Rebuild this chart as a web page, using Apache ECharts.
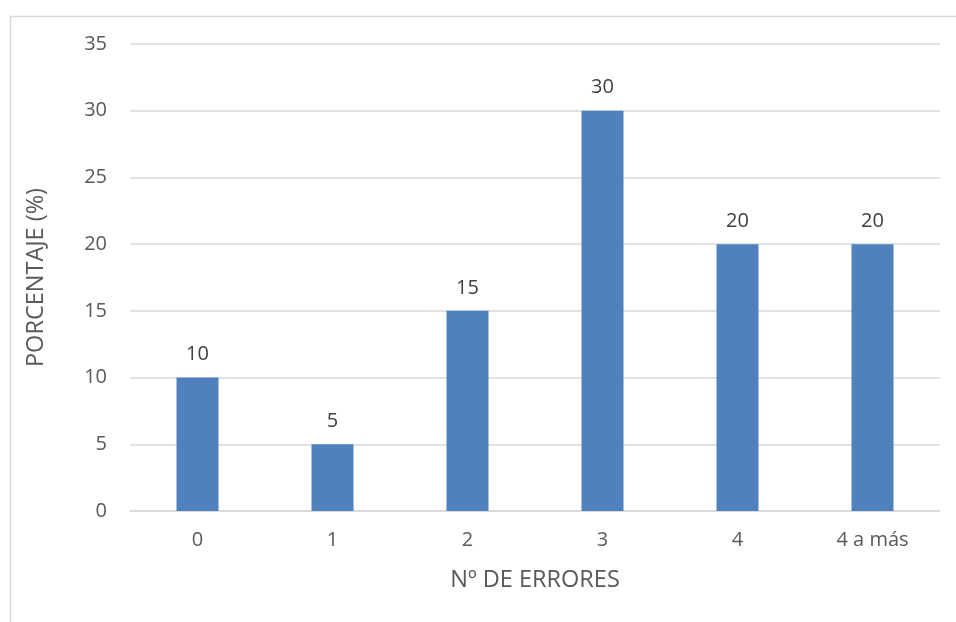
<!DOCTYPE html>
<html><head><meta charset="utf-8">
<script src="https://cdn.jsdelivr.net/npm/echarts@6/dist/echarts.min.js"></script>
<style>html,body{margin:0;padding:0;background:#fff}#c{width:956px;height:622px}</style>
</head><body><div id="c"></div>
<script>
const categories = ['0', '1', '2', '3', '4', '4 a más'];
const values = [10, 5, 15, 30, 20, 20];
const yTicks = {min: 0, max: 35, interval: 5};

const font = '"Open Sans", "Noto Sans", sans-serif';
const chart = echarts.init(document.getElementById('c'));
chart.setOption({
  animation: false,
  backgroundColor: '#fff',
  graphic: [{
    type: 'rect', left: 8, top: 14, silent: true,
    shape: {width: 1000, height: 700},
    style: {fill: 'none', stroke: '#d9d9d9', lineWidth: 1.5}
  }],
  grid: {left: 130, right: 16, top: 44, bottom: 111},
  xAxis: {
    type: 'category', data: categories,
    name: 'Nº DE ERRORES', nameLocation: 'middle', nameGap: 57,
    nameTextStyle: {color: '#595959', fontSize: 23.5, fontFamily: font},
    axisLine: {lineStyle: {color: '#d9d9d9', width: 1.5}},
    axisTick: {show: false},
    axisLabel: {color: '#595959', fontSize: 20, fontFamily: font, margin: 19}
  },
  yAxis: {
    type: 'value', min: yTicks.min, max: yTicks.max, interval: yTicks.interval,
    name: 'PORCENTAJE (%)', nameLocation: 'middle', nameGap: 82,
    nameTextStyle: {color: '#595959', fontSize: 23.5, fontFamily: font},
    axisLine: {show: false}, axisTick: {show: false},
    splitLine: {lineStyle: {color: '#d9d9d9', width: 1.5}},
    axisLabel: {color: '#595959', fontSize: 20, fontFamily: font, margin: 23}
  },
  series: [{
    type: 'bar', data: values, barWidth: 42,
    itemStyle: {color: '#4F81BD'},
    label: {show: true, position: 'top', distance: 13, color: '#404040', fontSize: 20, fontFamily: font}
  }]
});
</script></body></html>
